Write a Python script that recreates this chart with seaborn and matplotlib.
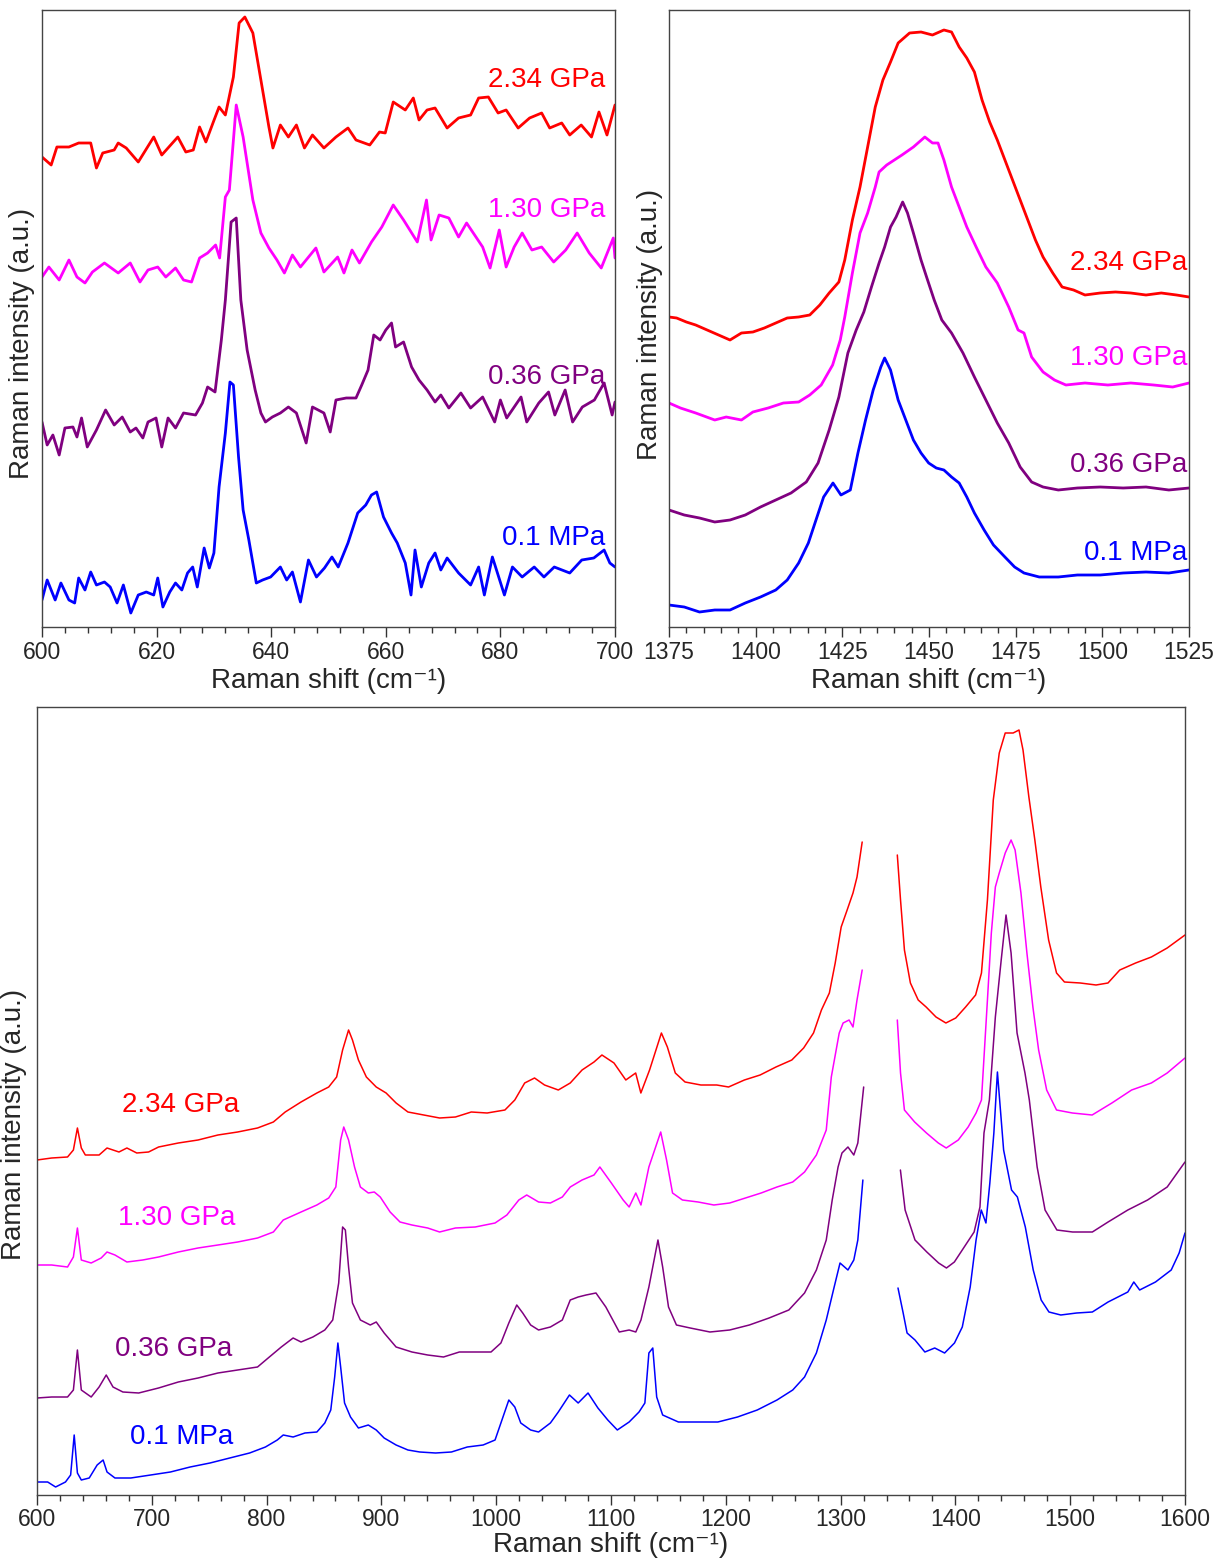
import numpy as np
import pandas as pd
import matplotlib
matplotlib.use("Agg")
import matplotlib.pyplot as plt
from matplotlib.ticker import MultipleLocator
import seaborn as sns

sns.set_style("white")
plt.rcParams['font.family'] = ['Liberation Sans', 'DejaVu Sans']

labels = ["2.34 GPa", "1.30 GPa", "0.36 GPa", "0.1 MPa"]
colors = ["#ff0000", "#ff00ff", "#800080", "#0000ff"]
xlabel_text = "Raman shift (cm\u207b\u00b9)"
ylabel_text = "Raman intensity (a.u.)"

# ---------------- top-left panel (600-700 cm-1) ----------------
tl_red_x = [600, 601.6, 602.6, 604.7, 606.4, 608.5, 609.5, 610.6, 612.6, 613.3, 614.7, 616.8, 619.5, 620.9, 623.7, 625.1, 626.4, 627.5, 628.6, 629.9, 630.9, 632.0, 633.4, 634.4, 635.4, 636.8, 638.2, 639.6, 640.3, 641.6, 643.0, 644.4, 645.8, 647.2, 649.2, 651.3, 653.4, 654.8, 657.2, 658.9, 659.9, 661.3, 663.4, 664.8, 665.8, 667.2, 668.6, 670.7, 672.7, 674.8, 676.2, 677.9, 679.6, 681.0, 683.1, 685.1, 687.2, 688.6, 690.7, 692.1, 694.1, 695.9, 697.2, 698.6, 700]
tl_red_y = [473, 465, 483, 483, 487, 487, 462, 477, 480, 487, 482, 468, 493, 475, 493, 478, 480, 503, 488, 508, 523, 515, 553, 607, 613, 597, 550, 503, 482, 505, 493, 505, 482, 495, 482, 493, 502, 490, 485, 498, 497, 528, 520, 532, 510, 520, 522, 502, 512, 515, 532, 533, 517, 520, 502, 512, 517, 502, 507, 495, 505, 493, 518, 495, 525]

tl_mag_x = [600, 601.2, 603.0, 604.7, 606.1, 607.5, 608.8, 610.9, 613.3, 615.4, 617.1, 618.5, 620.2, 621.6, 623.3, 624.7, 626.1, 627.5, 628.9, 630.3, 631.0, 632.0, 632.7, 633.9, 635.1, 636.8, 638.2, 639.6, 641.0, 642.3, 643.7, 645.1, 647.8, 649.2, 651.6, 652.7, 654.1, 655.4, 657.5, 659.3, 661.3, 663.1, 665.5, 667.1, 667.9, 669.3, 671.0, 672.7, 674.1, 676.9, 678.2, 679.8, 681.0, 682.4, 683.8, 685.5, 687.2, 689.3, 691.4, 693.4, 695.5, 697.6, 699.7, 700]
tl_mag_y = [353, 363, 350, 370, 353, 347, 358, 367, 357, 367, 348, 360, 363, 353, 362, 350, 348, 372, 377, 385, 372, 433, 440, 525, 493, 430, 397, 382, 370, 357, 375, 363, 382, 358, 373, 357, 380, 367, 388, 403, 425, 410, 388, 430, 390, 415, 412, 393, 407, 383, 362, 400, 363, 383, 397, 380, 383, 368, 380, 397, 377, 362, 392, 372]

tl_pur_x = [600, 600.9, 601.9, 603.0, 604.0, 605.4, 606.1, 606.9, 607.9, 609.5, 611.1, 612.6, 614.0, 615.4, 616.4, 617.6, 618.5, 619.9, 620.9, 622.0, 623.3, 624.7, 626.8, 628.0, 628.9, 630.2, 631.3, 632.0, 633.0, 633.9, 634.7, 635.8, 637.2, 638.2, 639.0, 640.2, 641.6, 643.0, 644.4, 646.1, 647.2, 649.2, 650.3, 651.3, 653.1, 654.8, 655.8, 656.9, 657.9, 659.0, 660.0, 661.0, 661.7, 663.1, 664.5, 665.8, 667.2, 668.6, 669.6, 671.0, 673.1, 674.8, 676.9, 679.0, 680.0, 681.1, 683.6, 684.6, 686.7, 688.4, 689.5, 691.3, 692.6, 694.3, 696.4, 698.1, 699.5, 700]
tl_pur_y = [208, 185, 195, 175, 202, 203, 193, 212, 183, 200, 220, 205, 213, 198, 202, 192, 208, 212, 183, 212, 202, 217, 215, 227, 243, 238, 290, 330, 408, 412, 330, 280, 240, 217, 208, 213, 217, 223, 217, 187, 223, 217, 198, 230, 232, 232, 245, 260, 295, 290, 300, 307, 283, 288, 263, 250, 240, 228, 235, 222, 237, 222, 233, 208, 230, 212, 233, 208, 227, 238, 215, 240, 208, 223, 230, 247, 215, 228]

tl_blu_x = [600, 600.9, 602.3, 603.3, 604.7, 605.7, 606.4, 607.5, 608.5, 609.5, 610.9, 611.9, 613.1, 614.2, 615.5, 616.8, 618.2, 619.5, 620.2, 621.1, 622.3, 623.3, 624.4, 625.4, 626.3, 627.1, 628.3, 629.2, 630.0, 630.9, 632.0, 632.8, 633.4, 634.3, 635.1, 636.1, 637.4, 638.5, 639.9, 641.6, 642.7, 643.7, 645.1, 646.5, 647.9, 649.3, 650.6, 651.7, 653.4, 655.1, 656.5, 657.5, 658.4, 659.6, 661.0, 662.0, 663.4, 664.4, 665.1, 666.2, 667.5, 668.6, 669.6, 670.7, 672.7, 674.8, 676.2, 677.2, 678.6, 680.7, 682.1, 683.8, 685.9, 687.6, 689.4, 692.1, 694.2, 696.3, 698.1, 699.1, 700]
tl_blu_y = [30, 50, 30, 47, 30, 27, 52, 40, 58, 45, 48, 43, 27, 45, 17, 35, 38, 35, 52, 23, 38, 47, 40, 57, 63, 43, 82, 62, 77, 143, 197, 248, 245, 173, 120, 90, 47, 50, 53, 63, 50, 58, 28, 70, 53, 62, 73, 63, 87, 117, 125, 135, 138, 113, 97, 87, 67, 35, 80, 43, 67, 77, 60, 72, 57, 45, 63, 35, 73, 35, 63, 53, 63, 53, 63, 57, 70, 72, 80, 67, 63]

# ---------------- top-right panel (1375-1525 cm-1) ----------------
tr_red_x = [1375, 1377.2, 1380, 1382.7, 1386, 1389.3, 1392.6, 1395.9, 1399.2, 1402.5, 1405.8, 1409.1, 1412.4, 1415.6, 1418.5, 1421.2, 1424.0, 1425.7, 1427.9, 1430.1, 1432.3, 1434.5, 1436.7, 1438.9, 1441.1, 1444.4, 1447.7, 1451.0, 1454.3, 1456.5, 1458.7, 1460.9, 1463.1, 1465.3, 1467.5, 1469.7, 1471.9, 1474.1, 1476.3, 1478.5, 1480.7, 1482.9, 1485.7, 1488.4, 1491.7, 1495.0, 1499.4, 1503.8, 1508.2, 1512.6, 1517.0, 1521.4, 1525]
tr_red_y = [313, 312, 308, 305, 300, 295, 290, 297, 298, 302, 307, 312, 313, 315, 325, 337, 348, 370, 410, 443, 483, 523, 550, 568, 587, 597, 598, 595, 600, 598, 583, 572, 558, 530, 508, 490, 470, 450, 430, 410, 390, 373, 357, 343, 340, 335, 337, 338, 337, 335, 337, 335, 333]

tr_mag_x = [1375, 1378.3, 1382.7, 1388.2, 1391.5, 1395.9, 1399.2, 1403.6, 1408.0, 1412.4, 1415.6, 1418.9, 1422.2, 1424.4, 1425.7, 1427.9, 1430.1, 1432.3, 1434.5, 1435.6, 1437.8, 1440.0, 1442.2, 1445.5, 1448.8, 1451.0, 1452.6, 1454.3, 1456.5, 1458.7, 1460.9, 1463.6, 1466.4, 1469.7, 1473.0, 1475.7, 1477.4, 1479.6, 1482.9, 1486.2, 1489.5, 1495.0, 1501.6, 1508.2, 1514.8, 1520.3, 1525]
tr_mag_y = [227, 222, 217, 210, 213, 210, 218, 222, 227, 228, 235, 245, 265, 290, 313, 357, 397, 417, 443, 458, 465, 470, 475, 483, 493, 487, 487, 470, 443, 423, 403, 383, 363, 347, 323, 300, 297, 273, 258, 250, 245, 247, 245, 247, 245, 243, 247]

tr_pur_x = [1375, 1379.4, 1383.8, 1388.2, 1392.6, 1397.0, 1401.4, 1405.8, 1410.2, 1414.6, 1418.0, 1421.2, 1424.0, 1426.6, 1429.0, 1431.2, 1433.4, 1435.6, 1437.2, 1438.9, 1440.5, 1442.4, 1443.8, 1445.5, 1447.7, 1449.3, 1451.5, 1453.7, 1456.5, 1459.8, 1463.1, 1466.4, 1469.7, 1473.0, 1476.3, 1479.6, 1482.9, 1487.3, 1492.8, 1499.4, 1506.0, 1512.6, 1519.2, 1525]
tr_pur_y = [120, 115, 112, 108, 110, 115, 123, 130, 137, 148, 167, 200, 233, 277, 300, 318, 343, 367, 383, 403, 413, 428, 417, 397, 370, 353, 330, 310, 297, 277, 253, 230, 207, 187, 163, 148, 143, 140, 142, 143, 142, 143, 140, 142]

tr_blu_x = [1375, 1379.4, 1383.8, 1388.2, 1392.6, 1397.0, 1401.4, 1405.8, 1409.1, 1412.4, 1415.2, 1417.4, 1419.6, 1422.3, 1424.6, 1427.3, 1429.5, 1431.7, 1433.9, 1436.1, 1437.2, 1438.9, 1441.1, 1443.3, 1445.5, 1447.7, 1449.9, 1452.1, 1454.3, 1456.5, 1458.7, 1460.9, 1463.1, 1465.9, 1468.6, 1471.9, 1474.7, 1477.4, 1481.8, 1487.3, 1492.8, 1499.4, 1506.0, 1512.6, 1519.2, 1525]
tr_blu_y = [25, 23, 18, 20, 20, 27, 33, 40, 50, 67, 87, 110, 133, 147, 135, 140, 177, 210, 240, 263, 272, 260, 230, 210, 190, 177, 167, 162, 160, 153, 147, 133, 117, 100, 85, 73, 63, 57, 53, 53, 55, 55, 57, 58, 57, 60]

# ---------------- bottom panel (600-1600 cm-1), gap 1320-1350 ----------------
bt_red_x = [600, 612.8, 626.6, 631.7, 635.2, 638.6, 642.1, 654.1, 661.0, 671.4, 678.3, 686.9, 697.2, 705.9, 723.1, 740.3, 757.6, 774.8, 792.1, 805.9, 816.2, 830.0, 843.8, 854.1, 861.0, 866.2, 871.4, 874.8, 880.0, 886.9, 895.5, 904.1, 912.8, 923.1, 936.9, 950.7, 964.5, 978.3, 992.1, 1007.6, 1016.2, 1024.8, 1033.4, 1042.1, 1054.1, 1064.5, 1074.8, 1085.2, 1092.1, 1102.6, 1112.9, 1121.5, 1126.0, 1133.6, 1143.9, 1149.1, 1156.0, 1164.5, 1178.3, 1192.1, 1202.4, 1216.2, 1229.9, 1243.7, 1257.5, 1267.8, 1276.4, 1283.3, 1290.2, 1295.3, 1300.5, 1305.7, 1310.8, 1314.3, 1318.8,
            1349.4, 1352.2, 1355.6, 1360.8, 1367.6, 1374.5, 1383.1, 1391.7, 1400.3, 1408.9, 1417.6, 1422.7, 1427.9, 1433.0, 1438.2, 1443.4, 1450.3, 1455.4, 1458.9, 1464.0, 1469.2, 1474.4, 1481.2, 1488.1, 1495.0, 1508.8, 1522.5, 1532.9, 1543.2, 1557.0, 1570.7, 1584.5, 1600]
bt_red_y = [340, 342, 343, 350, 372, 352, 345, 345, 352, 348, 352, 347, 348, 353, 357, 360, 365, 368, 372, 378, 388, 398, 407, 413, 423, 450, 470, 460, 440, 423, 413, 407, 397, 388, 385, 382, 383, 388, 387, 390, 400, 417, 422, 415, 410, 417, 430, 438, 445, 437, 420, 427, 407, 430, 467, 453, 427, 418, 415, 415, 413, 420, 425, 433, 440, 452, 467, 490, 507, 537, 573, 590, 607, 623, 658,
            645, 600, 550, 517, 500, 493, 483, 477, 482, 493, 505, 527, 600, 700, 747, 767, 767, 770, 750, 703, 660, 613, 560, 527, 518, 517, 515, 517, 530, 537, 543, 552, 565]

bt_mag_x = [600, 612.8, 626.6, 631.7, 635.2, 638.6, 647.2, 655.9, 661.0, 667.9, 678.3, 692.1, 705.9, 723.1, 740.3, 757.6, 774.8, 792.1, 805.9, 814.5, 830.0, 843.8, 854.1, 860.3, 864.5, 867.2, 871.4, 876.6, 881.7, 888.6, 893.8, 899.0, 907.6, 916.2, 926.6, 940.3, 950.7, 964.5, 981.7, 999.0, 1009.3, 1019.7, 1026.6, 1036.9, 1047.2, 1057.6, 1064.5, 1074.8, 1085.2, 1090.3, 1100.3, 1110.6, 1115.8, 1121.6, 1126.1, 1133.0, 1143.3, 1148.4, 1153.6, 1162.2, 1175.9, 1189.6, 1203.4, 1217.1, 1230.8, 1244.6, 1258.3, 1268.6, 1278.9, 1287.5, 1291.9, 1298.8, 1302.2, 1307.4, 1310.8, 1314.3, 1318.8,
            1349.4, 1352.2, 1355.6, 1364.5, 1374.8, 1385.1, 1392.0, 1402.5, 1411.1, 1418.0, 1422.7, 1427.9, 1431.3, 1434.8, 1438.2, 1443.4, 1448.5, 1452.0, 1457.1, 1462.3, 1467.5, 1472.5, 1479.5, 1488.1, 1501.9, 1519.1, 1536.3, 1553.5, 1570.7, 1584.5, 1600]
bt_mag_y = [235, 235, 233, 243, 272, 240, 237, 242, 248, 245, 238, 240, 243, 248, 252, 255, 258, 262, 268, 280, 288, 295, 302, 313, 360, 373, 360, 333, 313, 307, 308, 303, 288, 278, 275, 272, 268, 272, 273, 277, 285, 300, 305, 298, 297, 303, 313, 320, 325, 333, 317, 300, 293, 307, 295, 333, 368, 340, 307, 300, 298, 295, 297, 302, 307, 313, 318, 328, 345, 370, 423, 467, 477, 480, 473, 500, 530,
            480, 427, 390, 378, 367, 357, 352, 360, 373, 387, 400, 500, 567, 613, 627, 647, 660, 650, 607, 547, 493, 450, 410, 390, 387, 385, 397, 410, 417, 427, 442]

bt_pur_x = [600, 612.8, 626.6, 631.7, 635.2, 638.6, 647.2, 654.1, 660.3, 666.2, 674.8, 688.6, 705.9, 723.1, 740.3, 757.6, 774.8, 792.1, 802.4, 812.8, 823.1, 830.0, 840.3, 850.7, 857.6, 862.8, 866.2, 868.6, 871.4, 874.8, 881.7, 890.3, 895.5, 902.4, 912.8, 926.6, 940.3, 954.1, 967.9, 981.7, 995.5, 1004.1, 1011.0, 1017.9, 1023.1, 1030.0, 1036.9, 1047.2, 1057.6, 1064.5, 1071.4, 1078.3, 1086.9, 1095.5, 1107.2, 1115.8, 1121.6, 1126.1, 1133.0, 1140.9, 1145.0, 1150.1, 1157.0, 1169.0, 1186.2, 1203.4, 1220.5, 1237.7, 1254.9, 1268.6, 1278.9, 1287.5, 1292.7, 1297.8, 1301.2, 1306.4, 1311.5, 1315.0, 1320.1,
            1352.1, 1356.2, 1364.8, 1375.1, 1385.4, 1392.2, 1399.1, 1407.7, 1416.3, 1421.4, 1424.9, 1429.6, 1434.8, 1439.9, 1444.1, 1448.5, 1453.7, 1460.6, 1464.4, 1471.2, 1478.1, 1488.4, 1502.1, 1519.3, 1533.0, 1550.2, 1567.4, 1584.5, 1600]
bt_pur_y = [102, 103, 103, 110, 150, 110, 103, 113, 125, 113, 108, 107, 112, 118, 122, 127, 130, 133, 143, 153, 162, 158, 163, 170, 180, 217, 273, 270, 233, 197, 180, 175, 178, 167, 153, 148, 145, 143, 148, 148, 148, 157, 177, 195, 187, 175, 170, 173, 180, 200, 203, 205, 207, 193, 168, 170, 168, 180, 213, 260, 233, 193, 175, 172, 168, 170, 175, 182, 190, 207, 230, 260, 300, 333, 347, 353, 345, 357, 413,
            330, 290, 260, 248, 237, 232, 238, 253, 268, 293, 367, 400, 483, 540, 585, 547, 467, 427, 400, 333, 290, 270, 268, 268, 278, 290, 300, 313, 338]

bt_blu_x = [600, 609.3, 616.2, 624.8, 629.3, 632.4, 635.2, 638.6, 645.5, 652.4, 657.6, 661.0, 667.9, 681.7, 699.0, 716.2, 733.4, 750.7, 767.9, 785.2, 799.0, 809.3, 814.5, 823.1, 833.4, 843.8, 850.7, 855.9, 859.3, 862.1, 864.5, 867.9, 873.1, 880.0, 888.6, 895.5, 902.4, 912.8, 923.1, 933.4, 947.2, 961.0, 974.8, 988.6, 999.0, 1005.9, 1011.0, 1016.2, 1021.4, 1030.0, 1036.9, 1047.2, 1054.1, 1063.8, 1071.4, 1080.0, 1088.6, 1097.2, 1105.5, 1115.8, 1124.4, 1129.5, 1133.0, 1136.4, 1139.8, 1145.0, 1158.7, 1175.9, 1193.1, 1210.2, 1227.4, 1244.6, 1258.3, 1268.6, 1278.9, 1287.5, 1294.4, 1299.5, 1306.4, 1311.5, 1315.0, 1319.4,
            1350.0, 1354.5, 1357.9, 1364.8, 1373.4, 1382.0, 1390.6, 1399.2, 1406.0, 1412.9, 1418.0, 1422.5, 1426.6, 1430.0, 1433.5, 1436.6, 1442.0, 1448.9, 1454.0, 1460.9, 1467.8, 1474.7, 1481.5, 1491.8, 1505.6, 1519.3, 1533.0, 1550.2, 1555.4, 1560.5, 1574.3, 1588.0, 1594.9, 1600]
bt_blu_y = [18, 18, 13, 18, 25, 65, 27, 20, 22, 35, 40, 28, 22, 22, 25, 28, 33, 37, 42, 47, 53, 60, 65, 63, 67, 68, 77, 90, 123, 157, 133, 97, 83, 72, 75, 70, 62, 55, 50, 48, 47, 48, 53, 55, 60, 83, 100, 93, 77, 70, 68, 77, 88, 105, 97, 107, 92, 80, 70, 78, 88, 97, 147, 152, 103, 85, 78, 78, 78, 83, 90, 100, 110, 123, 147, 180, 213, 237, 230, 240, 260, 320,
            212, 187, 167, 160, 148, 152, 147, 157, 173, 213, 260, 290, 277, 317, 367, 428, 350, 310, 303, 273, 230, 200, 188, 185, 187, 188, 198, 208, 218, 210, 218, 230, 247, 267]

tl_series = [(tl_red_x, tl_red_y), (tl_mag_x, tl_mag_y), (tl_pur_x, tl_pur_y), (tl_blu_x, tl_blu_y)]
tr_series = [(tr_red_x, tr_red_y), (tr_mag_x, tr_mag_y), (tr_pur_x, tr_pur_y), (tr_blu_x, tr_blu_y)]
bt_series = [(bt_red_x, bt_red_y), (bt_mag_x, bt_mag_y), (bt_pur_x, bt_pur_y), (bt_blu_x, bt_blu_y)]

W, H = 1218, 1559
fig = plt.figure(figsize=(W / 100, H / 100), dpi=100)
fig.patch.set_facecolor("white")

def frac(l, t, r, b):
    return [l / W, 1 - b / H, (r - l) / W, (b - t) / H]

ax_tl = fig.add_axes(frac(42, 10, 615, 627))
ax_tr = fig.add_axes(frac(669, 10, 1189, 627))
ax_bt = fig.add_axes(frac(37, 707, 1185, 1495))

def draw(ax, series, lw, split=None):
    for (xs, ys), c in zip(series, colors):
        df = pd.DataFrame({"x": xs, "y": ys})
        parts = [df] if split is None else [df[df.x < split], df[df.x > split]]
        for p in parts:
            sns.lineplot(data=p, x="x", y="y", ax=ax, color=c, lw=lw,
                         estimator=None, sort=False, legend=False)

draw(ax_tl, tl_series, 2.0)
draw(ax_tr, tr_series, 2.0)
draw(ax_bt, bt_series, 1.1, split=1335)

def style(ax, xlim, ylim, major, minor, ylab_xy, tpad, xpad):
    ax.set_xlim(*xlim)
    ax.set_ylim(*ylim)
    ax.xaxis.set_major_locator(MultipleLocator(major))
    ax.xaxis.set_minor_locator(MultipleLocator(minor))
    ax.tick_params(axis="x", which="major", direction="out", length=7, width=1,
                   color="#333333", labelsize=16.5, pad=tpad, bottom=True)
    ax.tick_params(axis="x", which="minor", direction="out", length=4, width=1,
                   color="#333333", bottom=True)
    ax.tick_params(axis="y", left=False, labelleft=False)
    for s in ax.spines.values():
        s.set_color("#444444")
        s.set_linewidth(1.0)
    ax.set_xlabel(xlabel_text, fontsize=20, labelpad=xpad)
    ax.set_ylabel(ylabel_text, fontsize=20)
    ax.yaxis.set_label_coords(*ylab_xy)
    ax.grid(False)

style(ax_tl, (600, 700), (3, 620), 20, 4, (-0.013, 0.46), 3, 3)
style(ax_tr, (1375, 1525), (3, 620), 25, 5, (-0.012, 0.49), 3, 3)
style(ax_bt, (600, 1600), (5, 793), 100, 20, (-0.009, 0.47), 2, 1)

# series labels
tl_lab_y = [550, 420, 253, 92]
for t, c, y in zip(labels, colors, tl_lab_y):
    ax_tl.text(698.3, y, t, color=c, fontsize=20, ha="right", va="center")
tr_lab_y = [367, 272, 165, 77]
for t, c, y in zip(labels, colors, tr_lab_y):
    ax_tr.text(1524.4, y, t, color=c, fontsize=20, ha="right", va="center")
bt_lab_x = [674, 670.6, 668, 681]
bt_lab_y = [395, 282, 151, 63]
for t, c, x, y in zip(labels, colors, bt_lab_x, bt_lab_y):
    ax_bt.text(x, y, t, color=c, fontsize=20, ha="left", va="center")

fig.savefig("out.png", dpi=100, facecolor="white")
